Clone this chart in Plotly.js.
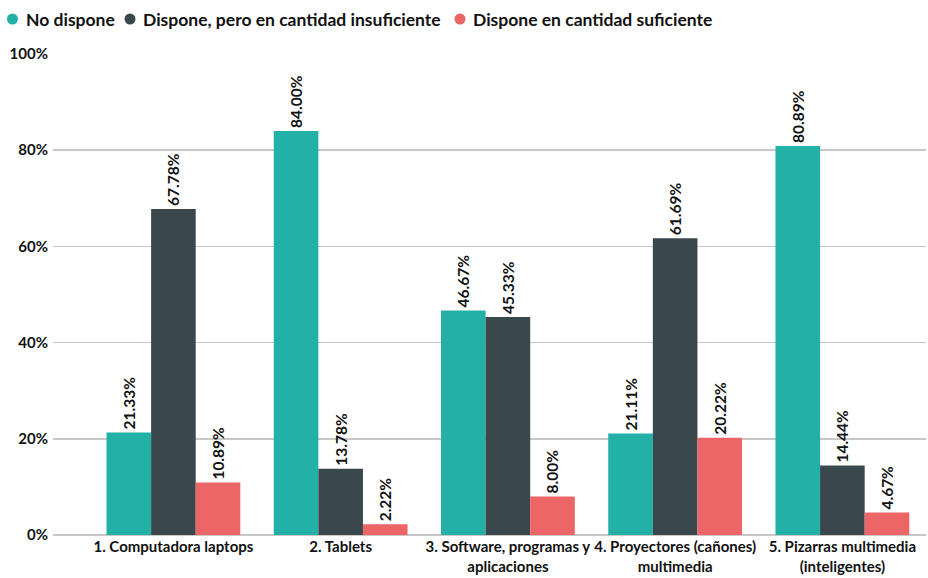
<!DOCTYPE html>
<html><head><meta charset="utf-8">
<script src="https://cdn.plot.ly/plotly-3.0.1.min.js"></script>
<style>html,body{margin:0;padding:0;background:#fff}#c{width:928px;height:578px}</style>
</head><body><div id="c"></div>
<script>
const categories = ["1. Computadora laptops", "2. Tablets", "3. Software, programas y<br>aplicaciones", "4. Proyectores (cañones)<br>multimedia", "5. Pizarras multimedia<br>(inteligentes)"];
const seriesNames = ["No dispone", "Dispone, pero en cantidad insuficiente", "Dispone en cantidad suficiente"];
const noDispone = [21.33, 84.00, 46.67, 21.11, 80.89];
const insuficiente = [67.78, 13.78, 45.33, 61.69, 14.44];
const suficiente = [10.89, 2.22, 8.00, 20.22, 4.67];
const yTicks = [0, 20, 40, 60, 80, 100];

const colors = ["#23B0A6", "#3A474D", "#EC6567"];
const FONT = "Lato, 'Open Sans', sans-serif";
const vals = [noDispone, insuficiente, suficiente];
const traces = [];
vals.forEach((v, i) => {
  traces.push({
    type: "bar", x: categories, y: v, name: seriesNames[i], showlegend: false,
    marker: {color: colors[i]},
    texttemplate: "%{y:.2f}%", textposition: "outside", textangle: -90,
    cliponaxis: false, constraintext: "none",
    textfont: {family: FONT, size: 15.5, color: "#111", weight: "bold"},
    hoverinfo: "skip"
  });
});
// legend drawn as circles + labels (pixel positions converted to paper units)
const L = 53, T = 53, W = 873, H = 482;
const px = x => (x - L) / W, py = y => (T + H - y) / H;
const legX = [12.5, 130, 460];
const legY = 19;
const shapes = legX.map((x, i) => ({
  type: "circle", xref: "paper", yref: "paper",
  xsizemode: "pixel", ysizemode: "pixel", xanchor: px(x), yanchor: py(legY),
  x0: -5.5, x1: 5.5, y0: -5.5, y1: 5.5,
  fillcolor: colors[i], line: {width: 0}
}));
const annotations = legX.map((x, i) => ({
  xref: "paper", yref: "paper", x: px(x + 11), xanchor: "left", y: py(legY), yanchor: "middle",
  text: seriesNames[i], showarrow: false,
  font: {family: FONT, size: 17.5, color: "#111", weight: "bold"}
}));
const layout = {
  width: 928, height: 578,
  margin: {l: L, r: 928 - L - W, t: T, b: 578 - T - H, autoexpand: false},
  paper_bgcolor: "#fff", plot_bgcolor: "#fff",
  barmode: "group", bargap: 0.2, bargroupgap: 0,
  font: {family: FONT, color: "#111", weight: "bold"},
  showlegend: false,
  shapes: shapes, annotations: annotations,
  xaxis: {type: "category", range: [-0.72, 4.5], showgrid: false, zeroline: false,
    showline: false, ticks: "", ticklabelstandoff: 1,
    tickfont: {family: FONT, size: 15, color: "#111", weight: "bold"}},
  yaxis: {range: [0, 100.2], tickvals: yTicks, ticktext: yTicks.map(t => t + "%"),
    showgrid: true, gridcolor: "#c8c8c8", gridwidth: 1.5, zeroline: true, zerolinecolor: "#c8c8c8", zerolinewidth: 1.5,
    showline: false, ticks: "", ticklabelstandoff: 4,
    tickfont: {family: FONT, size: 15, color: "#111", weight: "bold"}}
};
Plotly.newPlot("c", traces, layout, {displayModeBar: false, staticPlot: true});
</script></body></html>
